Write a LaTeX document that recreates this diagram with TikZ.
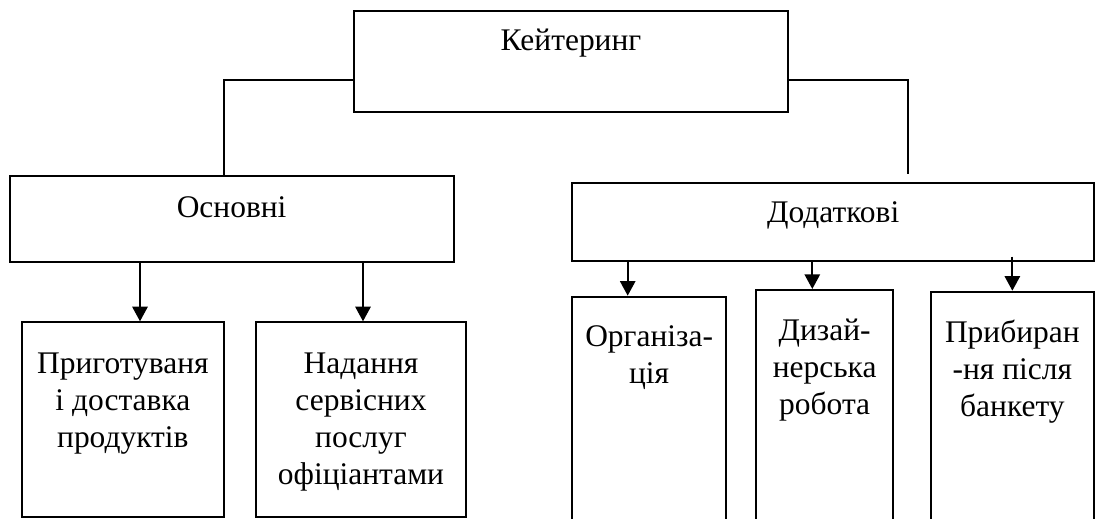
\documentclass[tikz,border=0pt]{standalone}
\usepackage{fontspec}
\setmainfont{Liberation Serif}
\usetikzlibrary{positioning, calc, arrows.meta}
\begin{document}
\begin{tikzpicture}[
    x=0.75pt, y=-0.75pt,
    box_style/.style={draw, line width=1.5pt, inner sep=0pt},
    text_style/.style={font=\fontsize{23.6pt}{27.75pt}\selectfont, align=center, inner sep=0pt},
    line_style/.style={line width=1.5pt},
    arrow_style/.style={line width=1.5pt, -{Triangle[length=11pt, width=11.5pt]}}
]
\useasboundingbox (0,0) rectangle (1096,518);
\clip (0,0) rectangle (1096,518);
% Top level
\node[box_style, minimum width=325.5pt, minimum height=75.75pt] (ket) at (571,61.2) {};
\node[text_style, below=14.5pt of ket.north] (ket_t) {Кейтеринг};
% Second level
\node[box_style, minimum width=333pt, minimum height=64.5pt] (osn) at (231.6,218.7) {};
\node[text_style, below=16pt of osn.north] (osn_t) {Основні};
\node[box_style, minimum width=391.3pt, minimum height=58.05pt] (dod) at (833.15,222) {};
\node[text_style, below=14.5pt of dod.north] (dod_t) {Додаткові};
% Third level
\node[box_style, minimum width=151.7pt, minimum height=146pt] (b1) at (122.85,419.65) {};
\node[text_style, below=23.5pt of b1.north] (b1_t) {Приготуваня\\і доставка\\продуктів};
\node[box_style, minimum width=157.5pt, minimum height=146pt] (b2) at (361,419.65) {};
\node[text_style, below=23.5pt of b2.north] (b2_t) {Надання\\сервісних\\послуг\\офіціантами};
\node[box_style, minimum width=115.3pt, minimum height=182.5pt] (b3) at (649.15,418.35) {};
\node[text_style, below=22pt of b3.north] (b3_t) {Організа-\\ція};
\node[box_style, minimum width=103pt, minimum height=187.5pt] (b4) at (824.65,415) {};
\node[text_style, below=22pt of b4.north] (b4_t) {Дизай-\\нерська\\робота};
\node[box_style, minimum width=122.5pt, minimum height=186.2pt] (b5) at (1012.35,415.85) {};
\node[text_style, below=22pt of b5.north] (b5_t) {Прибиран\\-ня після\\банкету};
% Connectors
\coordinate (ket_l) at (224,80);
\coordinate (ket_r) at (908,80);
\draw[line_style] (ket.west |- ket_l) -| (ket_l |- osn.north);
\draw[line_style] (ket.east |- ket_r) -| ($(ket_r |- dod.north)+(0,-8)$);
\foreach \src/\dst/\ax in {osn/b1/140, osn/b2/363, dod/b3/627.7, dod/b4/812.3} {
    \draw[arrow_style] (\src.south -| \ax,0) -- (\dst.north -| \ax,0);
}
\draw[arrow_style] ($(dod.south -| b5.north)+(0,-5)$) -- (b5.north);
\end{tikzpicture}
\end{document}
